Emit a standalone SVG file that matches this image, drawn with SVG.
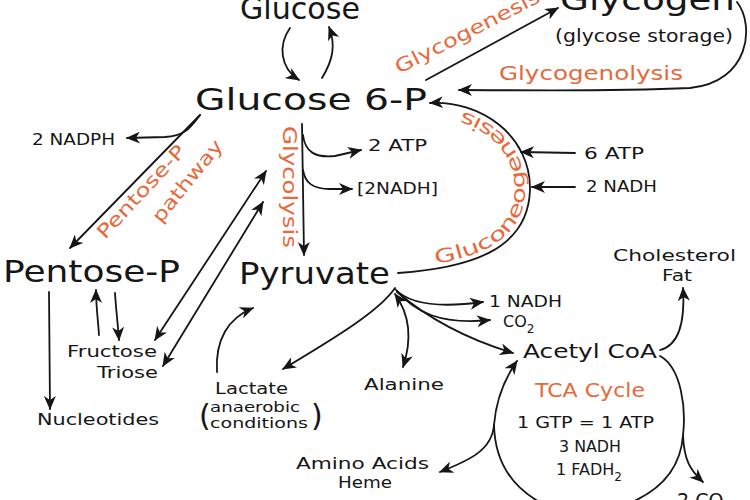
<svg xmlns="http://www.w3.org/2000/svg" width="750" height="500" viewBox="0 0 750 500">
<defs>
<style>
text { font-family: "DejaVu Sans", "Liberation Sans", sans-serif; fill: #161616; }
.big { font-size: 31px; }
.mid { font-size: 20px; }
.lbl { font-size: 16px; }
.or { fill: #e8683b; font-size: 19px; }
.c { fill: none; stroke: #161616; stroke-width: 1.8; stroke-linecap: round; }
.a { marker-end: url(#ah); }
.b { marker-start: url(#ah); marker-end: url(#ah); }
</style>
<marker id="ah" viewBox="0 0 14 12" refX="13" refY="6" markerWidth="14" markerHeight="12" markerUnits="userSpaceOnUse" orient="auto-start-reverse">
<path d="M0,0 L14,6 L0,12 L4,6 Z" fill="#161616"/>
</marker>
<path id="gp" d="M 398 268 C 468 263, 524 246, 525 190 C 526 139, 478 106, 432 108"/>
</defs>
<rect width="750" height="500" fill="#ffffff"/>

<g id="connectors">
<path class="c a" d="M 290 28 C 278 45, 280 68, 299 80"/>
<path class="c a" d="M 322 78 C 333 60, 336 45, 329 27"/>
<path class="c a" d="M 426 80 L 558 8"/>
<path class="c a" d="M 737 2 C 755 25, 750 82, 690 88 C 600 92, 520 90, 459 90"/>
<path class="c a" d="M 200 115 C 190 128, 185 136, 165 137 L 127 138"/>
<path class="c a" d="M 200 115 L 70 248"/>
<path class="c a" d="M 302 124 L 304 255"/>
<path class="c a" d="M 303 135 C 305 152, 315 158, 335 156 L 361 150"/>
<path class="c a" d="M 303 170 C 305 183, 313 189, 330 189 L 352 189"/>
<path class="c a" d="M 398 273 C 470 268, 528 250, 530 190 C 531 135, 480 100, 430 103"/>
<path class="c a" d="M 575 153 L 521 152"/>
<path class="c a" d="M 575 187 L 532 187"/>
<path class="c a" d="M 49 292 L 50 409"/>
<path class="c a" d="M 99 335 C 98 320, 96 305, 96 290"/>
<path class="c a" d="M 115 293 C 116 310, 118 325, 119 340"/>
<path class="c b" d="M 155 340 L 266 171"/>
<path class="c b" d="M 163 366 L 263 202"/>
<path class="c a" d="M 217 372 C 215 340, 228 318, 253 308"/>
<path class="c a" d="M 395 288 C 380 310, 340 335, 283 369"/>
<path class="c b" d="M 395 294 C 410 315, 412 340, 403 367"/>
<path class="c a" d="M 395 289 C 410 305, 440 308, 483 302"/>
<path class="c a" d="M 397 291 C 415 312, 440 325, 490 320"/>
<path class="c a" d="M 397 292 C 430 320, 470 340, 513 353"/>
<path class="c a" d="M 660 350 C 680 345, 685 320, 683 288"/>
<path class="c b" d="M 440 472 C 470 460, 492 450, 494 425 C 496 400, 505 378, 517 361"/>
<path class="c" d="M 494 425 C 495 465, 515 490, 545 505"/>
<path class="c" d="M 660 356 C 682 368, 686 410, 683 435 C 681 465, 665 488, 630 503"/>
<path class="c a" d="M 683 435 C 684 460, 690 470, 703 482"/>
</g>

<g id="labels">
<text class="or" transform="translate(399,74) rotate(-27)" textLength="160" lengthAdjust="spacingAndGlyphs">Glycogenesis</text>
<text class="or" x="499" y="80" textLength="184" lengthAdjust="spacingAndGlyphs">Glycogenolysis</text>
<text class="or" transform="translate(105,240) rotate(-47)" textLength="120" lengthAdjust="spacingAndGlyphs">Pentose-P</text>
<text class="or" transform="translate(161,224) rotate(-51)" textLength="100" lengthAdjust="spacingAndGlyphs">pathway</text>
<text class="or" transform="translate(283,126) rotate(90)" textLength="122" lengthAdjust="spacingAndGlyphs">Glycolysis</text>
<text class="or"><textPath href="#gp" startOffset="38" textLength="235" lengthAdjust="spacingAndGlyphs">Gluconeogenesis</textPath></text>
<text class="or" x="535" y="397" font-size="20" textLength="110" lengthAdjust="spacingAndGlyphs">TCA Cycle</text>
</g>

<g id="glucose"><text class="big" x="240" y="19" textLength="120" lengthAdjust="spacingAndGlyphs">Glucose</text></g>
<g id="glycogen">
<text class="big" x="560" y="10" textLength="175" lengthAdjust="spacingAndGlyphs">Glycogen</text>
<text x="555" y="42" font-size="18" textLength="178" lengthAdjust="spacingAndGlyphs">(glycose storage)</text>
</g>
<g id="glucose6p"><text class="big" x="195" y="110" textLength="232" lengthAdjust="spacingAndGlyphs">Glucose 6-P</text></g>
<g id="nadph"><text class="lbl" x="32" y="145" textLength="83" lengthAdjust="spacingAndGlyphs">2 NADPH</text></g>
<g id="atp2"><text class="lbl" x="368" y="151" textLength="59" lengthAdjust="spacingAndGlyphs">2 ATP</text></g>
<g id="nadh2b"><text class="lbl" x="357" y="194" textLength="81" lengthAdjust="spacingAndGlyphs">[2NADH]</text></g>
<g id="atp6"><text class="lbl" x="584" y="159" textLength="60" lengthAdjust="spacingAndGlyphs">6 ATP</text></g>
<g id="nadh2"><text class="lbl" x="586" y="192" textLength="71" lengthAdjust="spacingAndGlyphs">2 NADH</text></g>
<g id="pentosep"><text class="big" x="3" y="282" textLength="177" lengthAdjust="spacingAndGlyphs">Pentose-P</text></g>
<g id="pyruvate"><text class="big" x="239" y="284" textLength="151" lengthAdjust="spacingAndGlyphs">Pyruvate</text></g>
<g id="cholesterol">
<text class="lbl" x="613" y="261" textLength="123" lengthAdjust="spacingAndGlyphs">Cholesterol</text>
<text class="lbl" x="662" y="281" textLength="30" lengthAdjust="spacingAndGlyphs">Fat</text>
</g>
<g id="fructose">
<text class="lbl" x="67" y="357" textLength="90" lengthAdjust="spacingAndGlyphs">Fructose</text>
<text class="lbl" x="97" y="378" textLength="61" lengthAdjust="spacingAndGlyphs">Triose</text>
</g>
<g id="nucleotides"><text class="lbl" x="37" y="425" textLength="122" lengthAdjust="spacingAndGlyphs">Nucleotides</text></g>
<g id="lactate">
<text class="lbl" x="215" y="394" textLength="73" lengthAdjust="spacingAndGlyphs">Lactate</text>
<text x="210" y="412" font-size="14" textLength="90" lengthAdjust="spacingAndGlyphs">anaerobic</text>
<text x="210" y="428" font-size="14" textLength="98" lengthAdjust="spacingAndGlyphs">conditions</text>
<text x="199" y="426" font-size="30">(</text>
<text x="311" y="426" font-size="30">)</text>
</g>
<g id="alanine"><text class="lbl" x="364" y="390" textLength="80" lengthAdjust="spacingAndGlyphs">Alanine</text></g>
<g id="nadh1"><text class="lbl" x="489" y="307" textLength="73" lengthAdjust="spacingAndGlyphs">1 NADH</text></g>
<g id="co2"><text x="503" y="327" font-size="16">CO<tspan font-size="12" dy="6">2</tspan></text></g>
<g id="acetylcoa"><text class="mid" x="523" y="358" textLength="134" lengthAdjust="spacingAndGlyphs">Acetyl CoA</text></g>
<g id="tca">
<text class="lbl" x="517" y="428" textLength="137" lengthAdjust="spacingAndGlyphs">1 GTP = 1 ATP</text>
<text class="lbl" x="559" y="452" textLength="62" lengthAdjust="spacingAndGlyphs">3 NADH</text>
<text class="lbl" x="556" y="475">1 FADH<tspan font-size="12" dy="6">2</tspan></text>
</g>
<g id="aminoacids">
<text class="lbl" x="296" y="469" textLength="133" lengthAdjust="spacingAndGlyphs">Amino Acids</text>
<text class="lbl" x="338" y="488" textLength="54" lengthAdjust="spacingAndGlyphs">Heme</text>
</g>
<g id="co2b"><text x="677" y="507" font-size="19">2 CO<tspan font-size="13" dy="6">2</tspan></text></g>
</svg>
